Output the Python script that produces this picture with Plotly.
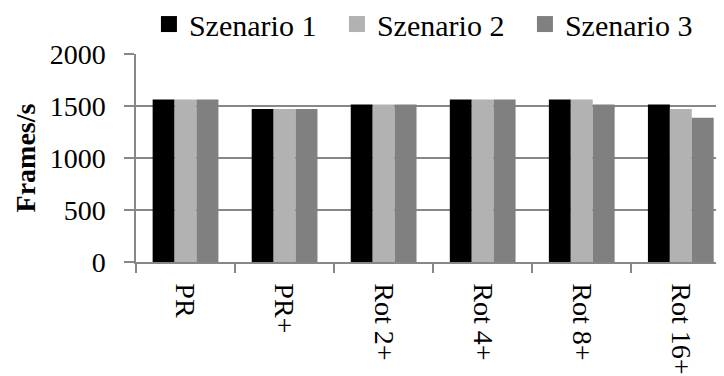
import plotly.graph_objects as go

# Frames per second for each configuration
categories = ["PR", "PR+", "Rot 2+", "Rot 4+", "Rot 8+", "Rot 16+"]
szenario_1 = [1563, 1470, 1515, 1563, 1563, 1515]
szenario_2 = [1563, 1470, 1515, 1563, 1563, 1470]
szenario_3 = [1563, 1470, 1515, 1563, 1515, 1388]
series_names = ["Szenario 1", "Szenario 2", "Szenario 3"]
series_colors = ["#000000", "#b2b2b2", "#808080"]

FONT = "Liberation Serif"
GRID = "#878787"

fig = go.Figure()
for name, vals, col in zip(series_names, [szenario_1, szenario_2, szenario_3], series_colors):
    fig.add_trace(go.Bar(x=categories, y=vals, name=name, marker_color=col,
                         marker_line_width=0, showlegend=False))
    # legend-only marker so the legend square is bigger
    fig.add_trace(go.Scatter(x=[None], y=[None], mode="markers", name=name,
                             marker=dict(symbol="square", size=16, color=col)))

# page body has an 8px margin, so the figure is 8px smaller than the window
fig.update_layout(
    width=716, height=368,
    margin=dict(l=128, r=0, t=46, b=114, autoexpand=False),
    plot_bgcolor="white", paper_bgcolor="white",
    font=dict(family=FONT, size=28, color="black"),
    barmode="group", bargap=0.336, bargroupgap=0,
    legend=dict(orientation="h", x=0.022, xanchor="left", y=1.144, yanchor="middle",
                font=dict(family=FONT, size=30), entrywidth=143, entrywidthmode="pixels",
                itemclick=False, tracegroupgap=0),
    xaxis=dict(range=[-0.5, 5.436], showline=True, linecolor=GRID, linewidth=1.5,
               ticks="outside", tickson="boundaries", ticklen=9, tickcolor=GRID, tickwidth=1.5,
               tickangle=90, showgrid=False, ticklabelstandoff=14),
    yaxis=dict(range=[0, 2000], tickvals=[0, 500, 1000, 1500, 2000], showline=True,
               linecolor=GRID, linewidth=1.5, showgrid=True, gridcolor=GRID, gridwidth=1.5,
               zeroline=False, ticks="outside", ticklen=10, tickcolor=GRID, tickwidth=1.5,
               ticklabelstandoff=13,
               title=dict(text="<b>Frames/s</b>", font=dict(family=FONT, size=28), standoff=6)),
)

fig.write_html("out.html")
